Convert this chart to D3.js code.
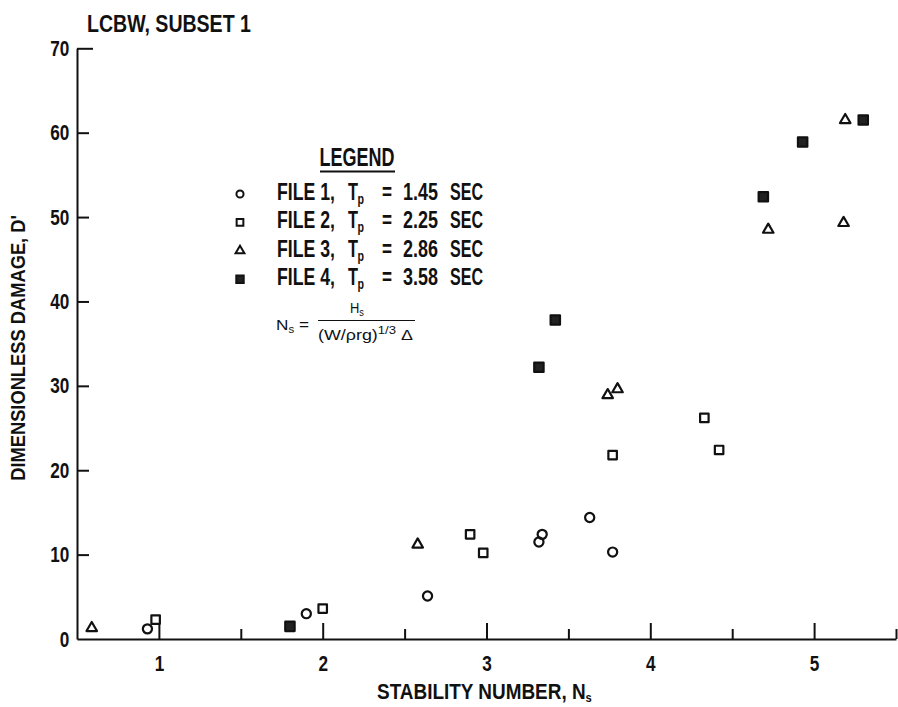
<!DOCTYPE html>
<html><head><meta charset="utf-8">
<script src="https://cdn.jsdelivr.net/npm/d3@7"></script>
<style>
body{margin:0;background:#fff}
svg{display:block;background:#fff}
text{font-family:'Liberation Sans',Arial,sans-serif;font-weight:bold;fill:#111}
.f text{font-weight:normal}
</style>
</head><body>
<svg id="c" width="898" height="707"></svg>
<script>
// ---- data ----
const file1X = [0.93, 1.90, 2.64, 3.34, 3.32, 3.63, 3.77];
const file1Y = [1.2, 3.0, 5.1, 12.4, 11.5, 14.4, 10.3];
const file2X = [0.98, 2.00, 2.90, 2.98, 3.77, 4.33, 4.42];
const file2Y = [2.3, 3.6, 12.4, 10.2, 21.8, 26.2, 22.4];
const file3X = [0.59, 2.58, 3.74, 3.80, 4.72, 5.18, 5.19];
const file3Y = [1.3, 11.2, 28.9, 29.6, 48.5, 49.3, 61.5];
const file4X = [1.80, 3.32, 3.42, 4.69, 4.93, 5.30];
const file4Y = [1.5, 32.2, 37.8, 52.4, 58.9, 61.5];
const seriesNames = ["FILE 1,", "FILE 2,", "FILE 3,", "FILE 4,"];
const periods = ["1.45", "2.25", "2.86", "3.58"];
const xTicks = [1, 2, 3, 4, 5];
const xMinorTicks = [1.5, 2.5, 3.5, 4.5, 5.5];
const yTicks = [0, 10, 20, 30, 40, 50, 60, 70];

const svg = d3.select("#c");
const x = d3.scaleLinear().domain([0.5, 5.5]).range([77, 896]);
const y = d3.scaleLinear().domain([0, 70]).range([639, 48.3]);

// text helper: place text and squeeze horizontally to a target width
function ftext(parent, px, py, str, size, w, anchor, rot) {
  const t = parent.append("text").attr("font-size", size).attr("text-anchor", anchor || "start");
  if (Array.isArray(str)) {
    str.forEach(p => { const ts = t.append("tspan").text(p.t); if (p.fs) ts.attr("font-size", p.fs); if (p.dy) ts.attr("dy", p.dy); });
  } else t.text(str);
  const L = t.node().getComputedTextLength();
  const s = w ? w / L : 0.78;
  t.attr("transform", `translate(${px},${py})${rot ? " rotate(" + rot + ")" : ""} scale(${s},1)`);
  return t;
}

// axes
const gx = svg.append("g").attr("transform", `translate(0,${y(0)})`)
  .call(d3.axisBottom(x).tickValues(xTicks).tickSizeInner(-16).tickSizeOuter(0).tickPadding(16).tickFormat(d3.format("d")));
const gxm = svg.append("g").attr("transform", `translate(0,${y(0)})`)
  .call(d3.axisBottom(x).tickValues(xMinorTicks).tickSizeInner(-10).tickSizeOuter(0).tickFormat(""));
gxm.select(".domain").remove();
const gy = svg.append("g").attr("transform", `translate(${x(0.5)},0)`)
  .call(d3.axisLeft(y).tickValues(yTicks).tickSizeInner(-12).tickSizeOuter(0).tickPadding(10).tickFormat(d3.format("d")));
gy.selectAll(".tick").filter(d => d === 0).select("line").remove();
gy.selectAll(".tick").filter(d => d === 70).select("line").attr("x2", 16);
[gx, gxm, gy].forEach(g => {
  g.selectAll(".domain").attr("stroke", "#111").attr("stroke-width", 2);
  g.selectAll(".tick line").attr("stroke", "#111").attr("stroke-width", 2);
  g.selectAll(".tick text").attr("font-size", 22).attr("fill", "#111")
    .attr("transform", "scale(0.78,1)")
    .style("font-family", "'Liberation Sans',Arial,sans-serif").style("font-weight", "bold");
});

// markers
const sym = {
  circle: d3.symbol().type(d3.symbolCircle).size(66),
  square: d3.symbol().type(d3.symbolSquare).size(72),
  tri: d3.symbol().type(d3.symbolTriangle).size(48),
  fsq: d3.symbol().type(d3.symbolSquare).size(88)
};
const series = [
  {xs: file1X, ys: file1Y, s: sym.circle, fill: "none"},
  {xs: file2X, ys: file2Y, s: sym.square, fill: "none"},
  {xs: file3X, ys: file3Y, s: sym.tri, fill: "none"},
  {xs: file4X, ys: file4Y, s: sym.fsq, fill: "#222"}
];
series.forEach(sr => {
  svg.append("g").selectAll("path").data(sr.xs.map((v, i) => [v, sr.ys[i]])).join("path")
    .attr("transform", d => `translate(${x(d[0])},${y(d[1])})`)
    .attr("d", sr.s()).attr("fill", sr.fill).attr("stroke", "#111").attr("stroke-width", 2.2)
    .attr("stroke-linejoin", "round");
});

// titles
ftext(svg, 87, 32, "LCBW, SUBSET  1", 23, 164);
ftext(svg, 25, 348, "DIMENSIONLESS DAMAGE, D'", 20, 266, "middle", -90);
ftext(svg, 377, 699, [{t: "STABILITY NUMBER, N"}, {t: "s", fs: 13, dy: 3}], 22, 215);

// legend
ftext(svg, 357, 166, "LEGEND", 25, 75, "middle");
svg.append("line").attr("x1", 320).attr("x2", 395).attr("y1", 171.5).attr("y2", 171.5).attr("stroke", "#111").attr("stroke-width", 2);
const lsym = [
  d3.symbol().type(d3.symbolCircle).size(40),
  d3.symbol().type(d3.symbolSquare).size(45),
  d3.symbol().type(d3.symbolTriangle).size(34),
  d3.symbol().type(d3.symbolSquare).size(55)
];
seriesNames.forEach((nm, i) => {
  const by = 200 + i * 28.4;
  svg.append("path").attr("transform", `translate(240,${by - 6})`).attr("d", lsym[i]())
    .attr("fill", i === 3 ? "#222" : "none").attr("stroke", "#111").attr("stroke-width", 2);
  ftext(svg, 277, by, nm, 23, 58);
  ftext(svg, 348, by, "T", 23, 10);
  ftext(svg, 357.5, by + 4, "p", 15, 6.5);
  ftext(svg, 382, by, "=", 23, 10);
  ftext(svg, 403, by, periods[i], 23, 35);
  ftext(svg, 450, by, "SEC", 23, 33);
});

// formula
const fg = svg.append("g").attr("class", "f");
ftext(fg, 276, 330, [{t: "N"}, {t: "s", fs: 10, dy: 3}, {t: " =", dy: -3}], 15, 33);
ftext(fg, 357, 313, [{t: "H"}, {t: "s", fs: 10, dy: 3}], 14, 14, "middle");
fg.append("line").attr("x1", 318).attr("x2", 415).attr("y1", 320.5).attr("y2", 320.5).attr("stroke", "#111").attr("stroke-width", 1.2);
ftext(fg, 318, 340, [{t: "(W/ρrg)"}, {t: "1/3", fs: 11, dy: -6}, {t: " Δ", dy: 6}], 15, 95);
</script>
</body></html>
